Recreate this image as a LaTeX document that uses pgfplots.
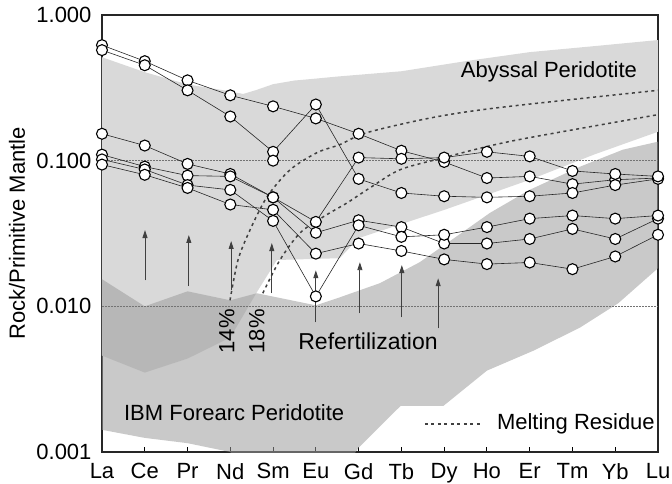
\documentclass[border=0pt]{standalone}
\usepackage{fontspec}
\setmainfont{Liberation Sans}
\usepackage{pgfplots}
\usepackage{pgfplotstable}
\pgfplotsset{compat=1.18}
\usetikzlibrary{arrows.meta}

\newcommand\lblfont{\fontsize{22}{26}\selectfont}

% REE patterns normalised to primitive mantle (La ... Lu = 0 ... 13)
\pgfplotstableread{
x  A     B     C     D      E       F
0  0.621 0.574 0.153 0.110  0.102   0.094
1  0.482 0.452 0.127 0.091  0.087   0.080
2  0.356 0.304 0.095 0.079  0.068   0.065
3  0.281 0.201 0.081 0.078  0.063   0.050
4  0.236 0.115 0.056 0.056  0.0386  0.046
5  0.195 0.243 0.038 0.032  0.0117  0.023
6  0.153 0.075 0.105 0.039  0.036   0.027
7  0.117 0.060 0.103 0.035  0.030   0.024
8  0.098 0.057 0.105 0.027  0.031   0.021
9  0.076 0.056 0.115 0.027  0.035   0.0195
10 0.078 0.057 0.107 0.029  0.040   0.020
11 0.069 0.060 0.085 0.034  0.042   0.018
12 0.074 0.068 0.081 0.029  0.040   0.022
13 0.076 0.075 0.078 0.040  0.042   0.031
}\ree

\begin{document}
\begin{tikzpicture}
\useasboundingbox (-102pt,-31pt) rectangle (570pt,452pt);
\begin{axis}[
  at={(0,0)}, anchor=south west,
  scale only axis, width=556pt, height=437pt,
  xmin=0, xmax=13, ymode=log, ymin=0.001, ymax=1,
  xtick={0,...,13},
  xticklabels={La,Ce,Pr,Nd,Sm,Eu,Gd,Tb,Dy,Ho,Er,Tm,Yb,Lu},
  ytick={0.001,0.01,0.1,1},
  yticklabels={0.001,0.010,0.100,1.000},
  tick label style={font=\lblfont},
  xticklabel style={yshift=-8pt},
  yticklabel style={xshift=-7pt},
  xtick pos=bottom, ytick pos=left,
  tick align=inside,
  major tick length=5pt,
  ytick style={draw=none},
  xtick style={line width=0.9pt, black},
  yminorticks=false,
  axis line style={line width=1.2pt, black!85},
  ylabel={Rock/Primitive Mantle},
  ylabel style={font=\lblfont, at={(axis description cs:-0.153,0.5)}, anchor=center},
  clip=true,
]
% Abyssal peridotite field
\addplot[draw=none, fill=black!15] coordinates {
  (0,0.513) (1,0.405) (2,0.334) (3,0.299) (3.3,0.287) (3.6,0.305) (4,0.335)
  (4.5,0.355) (5,0.366) (5.5,0.378) (7,0.411) (8.5,0.482) (10,0.556)
  (11.5,0.611) (13,0.673)
  (13,0.158) (11.5,0.110) (10,0.0739) (8,0.0459) (6,0.0294) (5.56,0.0214)
  (4.09,0.0208) (3.62,0.0125) (3,0.00611) (2,0.00438) (1,0.00351) (0,0.00459)
} --cycle;
% IBM forearc peridotite field
\addplot[draw=none, fill=black!39, fill opacity=0.55] coordinates {
  (0,0.01535) (1,0.0100) (2,0.01268) (3,0.0110) (3.62,0.0123) (5,0.01016)
  (5.56,0.01153) (6.5,0.01443) (7.43,0.0201) (8.44,0.0324) (9.07,0.0438)
  (10,0.0631) (11.18,0.0910) (12.18,0.119) (13,0.135)
  (13,0.01828) (12.07,0.0105) (11.18,0.00716) (10.1,0.00498) (9,0.00362)
  (7.98,0.00207) (6.98,0.00207) (6,0.00107) (5.7,0.0008) (3.2,0.0008)
  (3,0.001) (2,0.00115) (1,0.00125) (0,0.00142)
} --cycle;
% reference levels
\addplot[black!55, line width=0.5pt, dash pattern=on 2pt off 1pt] coordinates {(0,0.1) (13,0.1)};
\addplot[black!55, line width=0.5pt, dash pattern=on 2pt off 1pt] coordinates {(0,0.01) (13,0.01)};
% melting residues, 14% and 18%
\addplot[black!75, line width=1.5pt, dash pattern=on 3pt off 3.5pt, smooth] coordinates {
  (2.993,0.0110) (3.18,0.0208) (3.46,0.0334) (3.86,0.0565) (4.40,0.0867)
  (5.03,0.1136) (5.56,0.1289) (6.20,0.156) (7.74,0.198) (9.31,0.232) (13,0.304)
};
\addplot[black!75, line width=1.5pt, dash pattern=on 3pt off 3.5pt, smooth] coordinates {
  (3.76,0.0123) (4.16,0.0208) (4.63,0.0319) (5.17,0.0411) (5.73,0.0513)
  (6.27,0.0652) (6.97,0.0867) (8.0,0.105) (9.0,0.125) (10.0,0.144) (13,0.207)
};
% refertilization arrows
\foreach \xa/\ya/\yb in {1.005/0.0151/0.0334, 2.03/0.01374/0.0309, 3.02/0.01289/0.0281,
  3.97/0.0123/0.0272, 5.0/0.00776/0.0177, 6.03/0.00896/0.0201, 7.01/0.0084/0.0192,
  7.86/0.00705/0.0156}{
  \edef\tmp{\noexpand\draw[black!75, line width=0.9pt, -{Triangle[length=8pt,width=5pt]}]
    (axis cs:\xa,\ya) -- (axis cs:\xa,\yb);}\tmp
}
% sample patterns: lines first, circles on top
\foreach \s in {A,B,C,D,E,F}{
  \addplot[black!85, line width=0.6pt] table[x=x, y=\s]{\ree};
}
\foreach \s in {A,B,C,D,E,F}{
  \addplot[only marks, mark=*, mark size=5.5pt,
    mark options={fill=white, draw=black, line width=1.1pt}] table[x=x, y=\s]{\ree};
}
\addplot[only marks, mark=*, mark size=5.5pt,
  mark options={fill=white, draw=black, line width=1.1pt}] coordinates {(4,0.100)};
% labels
\node[font=\lblfont] at (axis cs:10.45,0.4045) {Abyssal Peridotite};
\node[font=\fontsize{23}{27}\selectfont] at (axis cs:6.22,0.00574) {Refertilization};
\node[font=\lblfont] at (axis cs:3.09,0.001858) {IBM Forearc Peridotite};
\node[font=\lblfont] at (axis cs:11.08,0.00156) {Melting Residue};
\draw[black!75, line width=1.5pt, dash pattern=on 3pt off 3.5pt]
  (axis cs:7.55,0.00156) -- (axis cs:8.91,0.00156);
\node[font=\lblfont, rotate=90] at (axis cs:2.92,0.00673) {14\%};
\node[font=\lblfont, rotate=90] at (axis cs:3.62,0.00673) {18\%};
\end{axis}
\end{tikzpicture}
\end{document}
